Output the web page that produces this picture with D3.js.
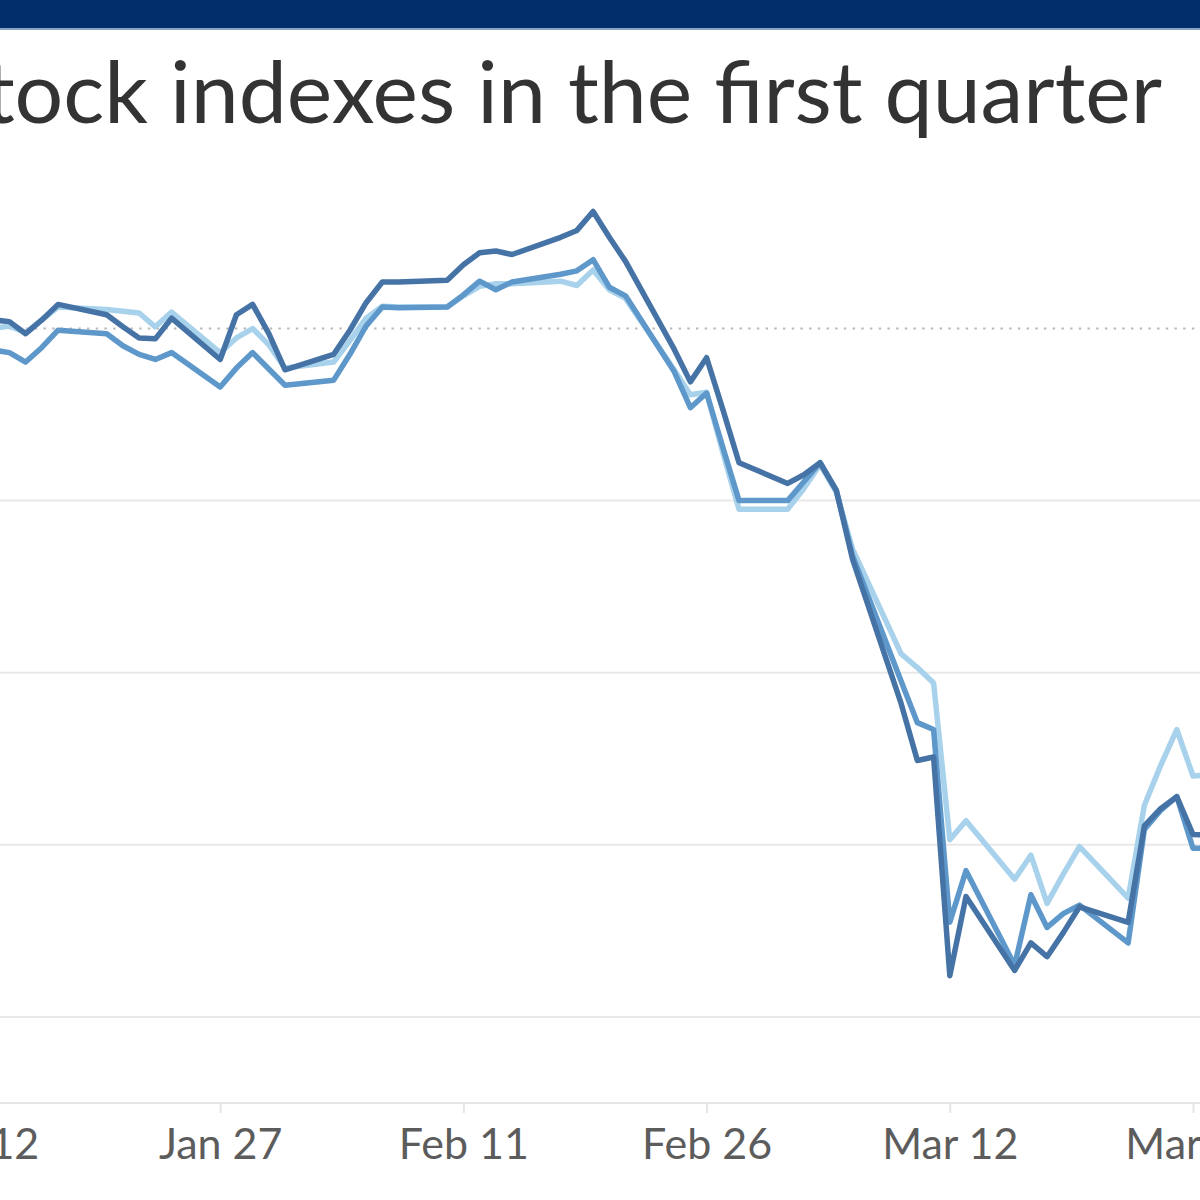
<!DOCTYPE html>
<html>
<head>
<meta charset="utf-8">
<script src="https://cdnjs.cloudflare.com/ajax/libs/d3/7.8.5/d3.min.js"></script>
<style>
  body { margin: 0; background: #fff; }
  svg { display: block; }
</style>
</head>
<body>
<div id="chart"></div>
<script>
// Size of the page
var w = 1200;
var h = 1200;

// trading days shown
var dates = [
  "2020-01-13","2020-01-14","2020-01-15","2020-01-16","2020-01-17",
  "2020-01-20","2020-01-21","2020-01-22","2020-01-23","2020-01-24",
  "2020-01-27","2020-01-28","2020-01-29","2020-01-30","2020-01-31",
  "2020-02-03","2020-02-04","2020-02-05","2020-02-06","2020-02-07",
  "2020-02-10","2020-02-11","2020-02-12","2020-02-13","2020-02-14",
  "2020-02-17","2020-02-18","2020-02-19","2020-02-20","2020-02-21",
  "2020-02-24","2020-02-25","2020-02-26","2020-02-27","2020-02-28",
  "2020-03-02","2020-03-03","2020-03-04","2020-03-05","2020-03-06",
  "2020-03-09","2020-03-10","2020-03-11","2020-03-12","2020-03-13",
  "2020-03-16","2020-03-17","2020-03-18","2020-03-19","2020-03-20",
  "2020-03-23","2020-03-24","2020-03-25","2020-03-26","2020-03-27",
  "2020-03-30"
];

// percent change
var darkSeries = [
  0.5, 0.4, -0.3, 0.5, 1.4,
  0.8, 0.1, -0.55, -0.6, 0.6,
  -1.8, 0.8, 1.4, -0.3, -2.4,
  -1.5, -0.1, 1.5, 2.7, 2.7,
  2.8, 3.7, 4.4, 4.5, 4.3,
  5.3, 5.7, 6.8, 5.3, 3.9,
  -1.2, -3.1, -1.7, -4.7, -7.8,
  -9.0, -8.5, -7.8, -9.4, -13.4,
  -21.8, -25.1, -24.9, -37.6, -33.0,
  -37.3, -35.7, -36.5, -35.1, -33.6,
  -34.5, -28.9, -27.9, -27.2, -29.4,
  -29.5
];

var midSeries = [
  -1.25, -1.4, -1.95, -1.1, -0.1,
  -0.3, -1.0, -1.5, -1.8, -1.4,
  -3.4, -2.3, -1.4, -2.35, -3.3,
  -3.0, -1.5, 0.15, 1.25, 1.2,
  1.25, 1.95, 2.75, 2.25, 2.7,
  3.15, 3.35, 4.0, 2.4, 1.9,
  -2.5, -4.6, -3.75, -6.9, -10.0,
  -10.0, -8.9, -7.8, -9.4, -13.2,
  -20.5, -22.9, -23.3, -34.5, -31.5,
  -37.0, -32.9, -34.8, -34.0, -33.5,
  -35.7, -29.1, -28.0, -27.2, -30.2,
  -30.2
];

var lightSeries = [
  0.0, 0.15, -0.25, 0.5, 1.25,
  1.1, 1.0, 0.9, 0.1, 0.95,
  -1.4, -0.55, 0.0, -0.95, -2.3,
  -1.95, -0.7, 0.6, 1.3, 1.25,
  1.25, 1.9, 2.45, 2.6, 2.6,
  2.75, 2.5, 3.4, 2.25, 1.75,
  -2.4, -3.85, -3.7, -7.2, -10.5,
  -10.5, -9.3, -7.9, -9.5, -12.8,
  -18.9, -19.7, -20.6, -29.7, -28.6,
  -32.0, -30.6, -33.4, -31.7, -30.1,
  -33.1, -27.7, -25.4, -23.3, -26.0,
  -25.8
];

var tickDates = ["2020-01-12","2020-01-27","2020-02-11","2020-02-26","2020-03-12","2020-03-27"];
var gridValues = [-10, -20, -30, -40];
var title = "Stock indexes in the first quarter";

var parse = d3.utcParse("%Y-%m-%d");

var svg = d3.select("#chart")
			.append("svg")
			.attr("width", w)
			.attr("height", h);

// navy bar at the top
svg.append("rect")
   .attr("x", 0).attr("y", 0)
   .attr("width", w).attr("height", 28)
   .attr("fill", "#022e6b");
svg.append("rect")
   .attr("x", 0).attr("y", 28)
   .attr("width", w).attr("height", 2)
   .attr("fill", "#8aa3c4");

// title, its start is cropped like in the original
svg.append("text")
   .text(title)
   .attr("x", 1162)
   .attr("y", 123)
   .attr("text-anchor", "end")
   .attr("font-family", "Lato, sans-serif")
   .attr("font-size", "86px")
   .attr("fill", "#333333");

// scales (chart is cropped, so the left part falls off the page)
var x = d3.scaleUtc()
		  .domain([parse("2020-01-12"), parse("2020-03-27")])
		  .range([-23, 1193]);

var y = d3.scaleLinear()
		  .domain([-45, 10])
		  .range([1103, 156.4]);

// gridlines
svg.selectAll("line.grid")
   .data(gridValues)
   .enter()
   .append("line")
   .attr("class", "grid")
   .attr("x1", 0).attr("x2", w)
   .attr("y1", function(d) { return y(d); })
   .attr("y2", function(d) { return y(d); })
   .attr("stroke", "#e8e8e8")
   .attr("stroke-width", 2);

svg.append("line")
   .attr("x1", 0).attr("x2", w)
   .attr("y1", y(0)).attr("y2", y(0))
   .attr("stroke", "#b8b8b8")
   .attr("stroke-width", 2.2)
   .attr("stroke-dasharray", "2.4,6.3");

// x axis
var xAxis = d3.axisBottom(x)
			  .tickValues(tickDates.map(parse))
			  .tickFormat(d3.utcFormat("%b %-d"))
			  .tickSize(10)
			  .tickPadding(15);

var gx = svg.append("g")
			.attr("transform", "translate(0," + y(-45) + ")")
			.call(xAxis);

gx.select(".domain")
  .attr("stroke", "#e6e6e6")
  .attr("stroke-width", 2)
  .attr("d", "M0,0H" + w);
gx.selectAll(".tick line")
  .attr("stroke", "#e6e6e6")
  .attr("stroke-width", 2);
gx.selectAll(".tick text")
  .attr("font-family", "Lato, sans-serif")
  .attr("font-size", "43px")
  .attr("fill", "#5c5c5c");

// lines
var series = [
  { values: lightSeries, color: "#a8d2ec" },
  { values: midSeries, color: "#5e98cb" },
  { values: darkSeries, color: "#4673a6" }
];

var line = d3.line()
			 .x(function(d) { return x(d.date); })
			 .y(function(d) { return y(d.value); });

svg.selectAll("path.series")
   .data(series)
   .enter()
   .append("path")
   .attr("class", "series")
   .attr("d", function(s) {
		return line(dates.map(function(dt, i) {
			return { date: parse(dt), value: s.values[i] };
		}));
   })
   .attr("fill", "none")
   .attr("stroke", function(s) { return s.color; })
   .attr("stroke-width", 5.5)
   .attr("stroke-linejoin", "round");
</script>
</body>
</html>
